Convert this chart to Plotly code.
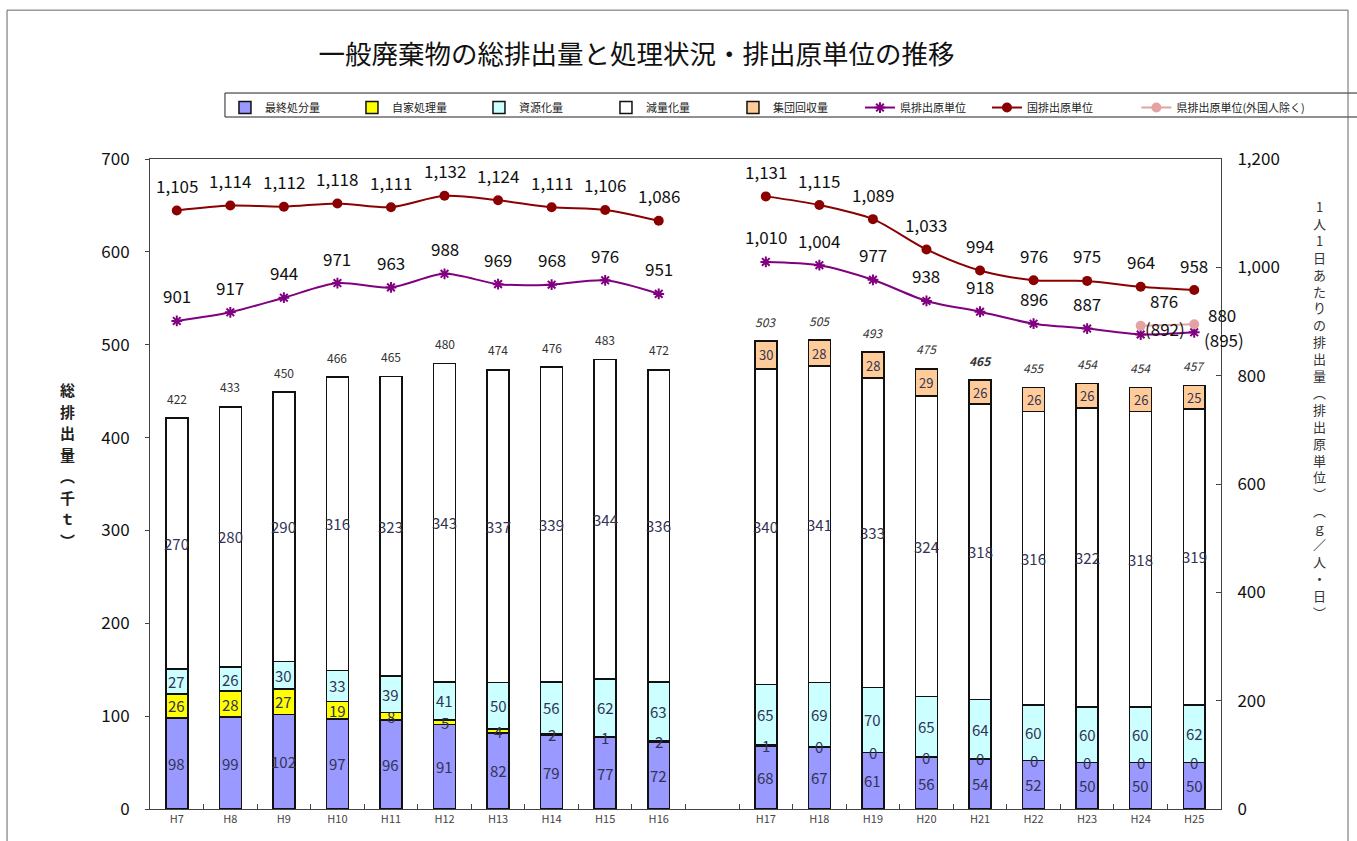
import plotly.graph_objects as go

# ---- data -------------------------------------------------------------
years_a = ["H7", "H8", "H9", "H10", "H11", "H12", "H13", "H14", "H15", "H16"]
years_b = ["H17", "H18", "H19", "H20", "H21", "H22", "H23", "H24", "H25"]

final_a = [98, 99, 102, 97, 96, 91, 82, 79, 77, 72]          # 最終処分量
final_b = [68, 67, 61, 56, 54, 52, 50, 50, 50]
self_a = [26, 28, 27, 19, 8, 5, 4, 2, 1, 2]                   # 自家処理量
self_b = [1, 0, 0, 0, 0, 0, 0, 0, 0]
recycle_a = [27, 26, 30, 33, 39, 41, 50, 56, 62, 63]          # 資源化量
recycle_b = [65, 69, 70, 65, 64, 60, 60, 60, 62]
reduce_a = [270, 280, 290, 316, 323, 343, 337, 339, 344, 336]  # 減量化量
reduce_b = [340, 341, 333, 324, 318, 316, 322, 318, 319]
group_b = [30, 28, 28, 29, 26, 26, 26, 26, 25]                # 集団回収量

total_a = [422, 433, 450, 466, 465, 480, 474, 476, 483, 472]
total_b = [503, 505, 493, 475, 465, 455, 454, 454, 457]

pref_a = [901, 917, 944, 971, 963, 988, 969, 968, 976, 951]   # 県排出原単位
pref_b = [1010, 1004, 977, 938, 918, 896, 887, 876, 880]
nat_a = [1105, 1114, 1112, 1118, 1111, 1132, 1124, 1111, 1106, 1086]  # 国排出原単位
nat_b = [1131, 1115, 1089, 1033, 994, 976, 975, 964, 958]
pref_exf_years = ["H24", "H25"]                                # 県排出原単位(外国人除く)
pref_exf = [892, 895]

# ---- assemble with a blank slot between the two periods ----------------
GAP = " "
cats = years_a + [GAP] + years_b


def join(a, b):
    return list(a) + [None] + list(b)


final = join(final_a, final_b)
selfp = join(self_a, self_b)
recycle = join(recycle_a, recycle_b)
reduce_ = join(reduce_a, reduce_b)
group = [None] * (len(years_a) + 1) + group_b
pref = join(pref_a, pref_b)
nat = join(nat_a, nat_b)

FONT = "Noto Sans CJK JP"
OUTLINE = dict(color="#111111", width=1.5)

fig = go.Figure()

bar_series = [
    ("最終処分量", final, "#9999FF"),
    ("自家処理量", selfp, "#FFFF00"),
    ("資源化量", recycle, "#CCFFFF"),
    ("減量化量", reduce_, "#FFFFFF"),
    ("集団回収量", group, "#FFCC99"),
]
for name, vals, color in bar_series:
    fig.add_trace(go.Bar(
        x=cats, y=vals, name=name,
        marker=dict(color=color, line=OUTLINE),
        hoverinfo="skip", legend="legend",
    ))

fig.add_trace(go.Scatter(
    x=cats, y=pref, name="県排出原単位", yaxis="y2", mode="lines+markers",
    line=dict(color="#800080", width=2, shape="spline", smoothing=0.8),
    marker=dict(symbol="asterisk-open", size=9,
                line=dict(color="#800080", width=2), color="#800080"),
    connectgaps=False, legend="legend",
))
fig.add_trace(go.Scatter(
    x=cats, y=nat, name="国排出原単位", yaxis="y2", mode="lines+markers",
    line=dict(color="#8B0000", width=2, shape="spline", smoothing=0.8),
    marker=dict(symbol="circle", size=10, color="#8B0000"),
    connectgaps=False, legend="legend",
))
fig.add_trace(go.Scatter(
    x=pref_exf_years, y=pref_exf, name="県排出原単位(外国人除く)", yaxis="y2",
    mode="lines+markers",
    line=dict(color="#E3A3A3", width=2),
    marker=dict(symbol="circle", size=10, color="#E3A3A3"),
    legend="legend2",
))

annotations = []

# segment labels inside the stacked bars
for i, c in enumerate(cats):
    if c == GAP:
        continue
    base = 0
    for name, vals, _ in bar_series:
        v = vals[i]
        if v is None:
            continue
        fs = 13 if name == "集団回収量" else 15
        annotations.append(dict(
            x=c, y=base + v / 2, xref="x", yref="y", text=str(v),
            showarrow=False, font=dict(family=FONT, size=fs, color="#333355"),
        ))
        base += v

# total labels above the bars
tops_a = [f + s + r + d for f, s, r, d in zip(final_a, self_a, recycle_a, reduce_a)]
tops_b = [f + s + r + d + g for f, s, r, d, g in
          zip(final_b, self_b, recycle_b, reduce_b, group_b)]
for c, t, top in zip(years_a, total_a, tops_a):
    annotations.append(dict(
        x=c, y=top, xref="x", yref="y", text=str(t), yshift=20,
        showarrow=False, font=dict(family=FONT, size=12, color="#333333"),
    ))
for c, t, top in zip(years_b, total_b, tops_b):
    txt = f"<i>{t}</i>" if c != "H21" else f"<b><i>{t}</i></b>"
    annotations.append(dict(
        x=c, y=top, xref="x", yref="y", text=txt, yshift=20,
        showarrow=False, font=dict(family=FONT, size=12, color="#333333"),
    ))

# labels for the per-capita lines
line_font = dict(family=FONT, size=17, color="#111111")
label_shift = {
    ("pref", "H24"): (23, 34),
    ("pref", "H25"): (28, 18),
    ("exf", "H24"): (24, -3),
    ("exf", "H25"): (30, -15),
}
for key, ys, xs in [("nat", nat, cats), ("pref", pref, cats),
                    ("exf", pref_exf, pref_exf_years)]:
    for c, v in zip(xs, ys):
        if v is None:
            continue
        dx, dy = label_shift.get((key, c), (0, 25))
        txt = f"({v:,})" if key == "exf" else f"{v:,}"
        annotations.append(dict(
            x=c, y=v, xref="x", yref="y2", text=txt, xshift=dx, yshift=dy,
            showarrow=False, font=line_font,
        ))

# left axis title: one character per row
left_title = ["総", "排", "出", "量", "︵", "千", "ｔ", "︶"]
for k, ch in enumerate(left_title):
    annotations.append(dict(
        x=-0.086, y=0.529, xref="paper", yref="paper",
        yshift=(len(left_title) - 1) / 2 * 21.5 - k * 21.5,
        text=f"<b>{ch}</b>", showarrow=False,
        font=dict(family=FONT, size=15, color="#222222"),
    ))

# right axis title, stacked vertically
right_title = ["1", "人", "1", "日", "あ", "た", "り", "の", "排", "出", "量", "︵",
               "排", "出", "原", "単", "位", "︶", "︵", "ｇ", "／", "人", "・", "日", "︶"]
annotations.append(dict(
    x=1.1, y=0.615, xref="paper", yref="paper",
    text="<br>".join(right_title),
    showarrow=False, font=dict(family=FONT, size=13, color="#333333"),
))

shapes = [
    # outer frame of the chart
    dict(type="rect", xref="paper", yref="paper",
         x0=-0.1335, x1=1.1186, y0=-0.2, y1=1.229,
         line=dict(color="#666666", width=1)),
    # frame around the legend row
    dict(type="rect", xref="paper", yref="paper",
         x0=0.070, x1=1.16, y0=1.0646, y1=1.1015,
         line=dict(color="#222222", width=1), fillcolor="white", layer="below"),
]

legend_common = dict(
    orientation="h", yanchor="top", y=1.1015,
    bgcolor="rgba(0,0,0,0)", borderwidth=0,
    font=dict(family=FONT, size=11, color="#222222"),
    traceorder="normal", itemwidth=30,
)

fig.update_layout(
    width=1357, height=841,
    margin=dict(l=150, r=136, t=159, b=32),
    paper_bgcolor="white", plot_bgcolor="white",
    barmode="stack", bargap=0.59,
    font=dict(family=FONT, color="#222222"),
    title=dict(text="一般廃棄物の総排出量と処理状況・排出原単位の推移",
               x=0.469, xanchor="center", y=0.935, yanchor="middle",
               font=dict(family=FONT, size=26.5, color="#111111")),
    showlegend=True,
    legend=dict(x=0.07, xanchor="left", entrywidth=82,
                entrywidthmode="pixels", **legend_common),
    legend2=dict(x=0.921, xanchor="left", **legend_common),
    xaxis=dict(
        type="category", categoryorder="array", categoryarray=cats,
        range=[-0.5, len(cats) - 0.5],
        tickson="boundaries", ticks="inside", ticklen=5, tickcolor="#444444",
        showline=True, linecolor="#444444", linewidth=1, mirror=True,
        showgrid=False, tickfont=dict(family=FONT, size=11, color="#444444"),
    ),
    yaxis=dict(
        range=[0, 700], dtick=100, showgrid=False,
        showline=True, linecolor="#444444", linewidth=1, mirror=True,
        ticks="outside", ticklen=4, tickcolor="#444444",
        ticklabelstandoff=12,
        tickfont=dict(family=FONT, size=17, color="#111111"),
        zeroline=False,
    ),
    yaxis2=dict(
        overlaying="y", side="right", range=[0, 1200], dtick=200,
        tickformat=",", showgrid=False, zeroline=False,
        showline=True, linecolor="#444444", linewidth=1,
        ticks="inside", ticklen=5, tickcolor="#444444",
        ticklabelstandoff=12,
        tickfont=dict(family=FONT, size=17, color="#111111"),
    ),
    annotations=annotations,
    shapes=shapes,
)

fig.write_html("out.html")
